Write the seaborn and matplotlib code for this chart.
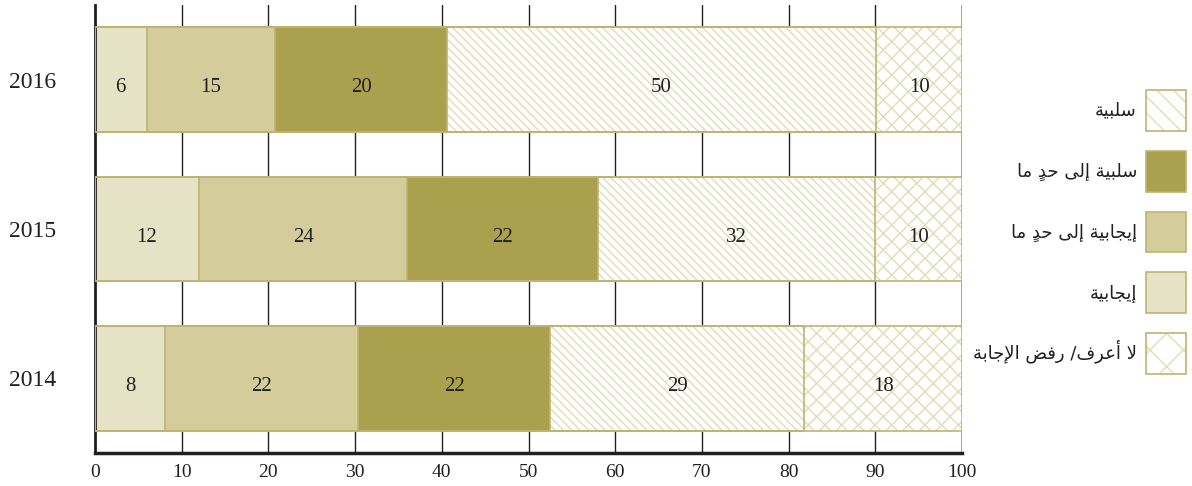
import matplotlib
matplotlib.use("Agg")
import matplotlib.pyplot as plt
from matplotlib.patches import Patch, Rectangle
import numpy as np
import pandas as pd
import seaborn as sns

# ---- data -------------------------------------------------------------
years = ["2016", "2015", "2014"]
categories = [
    "إيجابية",
    "إيجابية إلى حدٍ ما",
    "سلبية إلى حدٍ ما",
    "سلبية",
    "لا أعرف/ رفض الإجابة",
]
positive = [6, 12, 8]
somewhat_positive = [15, 24, 22]
somewhat_negative = [20, 22, 22]
negative = [50, 32, 29]
dont_know = [10, 10, 18]
x_ticks = [0, 10, 20, 30, 40, 50, 60, 70, 80, 90, 100]

# ---- styling ----------------------------------------------------------
fills = ["#e6e2c6", "#d4cc9a", "#aba04e", "#ffffff", "#ffffff"]
hatches = [None, None, None, "\\\\\\\\", "xx"]
legend_hatches = [None, None, None, "\\\\", "x"]
hatch_color = "#e2dcb6"
edge_color = "#bdb372"
text_color = "#231f20"

# ---- minimal Arabic shaping (contextual forms + RTL order) -------------
_FORMS = {
    "ا": ("\uFE8D", "\uFE8E"),
    "أ": ("\uFE83", "\uFE84"),
    "إ": ("\uFE87", "\uFE88"),
    "ة": ("\uFE93", "\uFE94"),
    "د": ("\uFEA9", "\uFEAA"),
    "ر": ("\uFEAD", "\uFEAE"),
    "ى": ("\uFEEF", "\uFEF0"),
    "ب": ("\uFE8F", "\uFE90", "\uFE91", "\uFE92"),
    "ج": ("\uFE9D", "\uFE9E", "\uFE9F", "\uFEA0"),
    "ح": ("\uFEA1", "\uFEA2", "\uFEA3", "\uFEA4"),
    "س": ("\uFEB1", "\uFEB2", "\uFEB3", "\uFEB4"),
    "ض": ("\uFEBD", "\uFEBE", "\uFEBF", "\uFEC0"),
    "ع": ("\uFEC9", "\uFECA", "\uFECB", "\uFECC"),
    "ف": ("\uFED1", "\uFED2", "\uFED3", "\uFED4"),
    "ل": ("\uFEDD", "\uFEDE", "\uFEDF", "\uFEE0"),
    "م": ("\uFEE1", "\uFEE2", "\uFEE3", "\uFEE4"),
    "ي": ("\uFEF1", "\uFEF2", "\uFEF3", "\uFEF4"),
}
_LAM_ALEF = {"ا": ("\uFEFB", "\uFEFC"), "أ": ("\uFEF7", "\uFEF8"), "إ": ("\uFEF9", "\uFEFA")}
_MARKS = set("\u064B\u064C\u064D\u064E\u064F\u0650\u0651\u0652")


def shape_arabic(text):
    clusters = []
    for ch in text:
        if ch in _MARKS and clusters:
            clusters[-1][1] += ch
        else:
            clusters.append([ch, ""])
    merged = []
    i = 0
    while i < len(clusters):
        base, marks = clusters[i]
        if base == "ل" and i + 1 < len(clusters) and clusters[i + 1][0] in _LAM_ALEF:
            merged.append(["LA" + clusters[i + 1][0], marks + clusters[i + 1][1]])
            i += 2
        else:
            merged.append([base, marks])
            i += 1

    def joins_next(b):
        return b in _FORMS and len(_FORMS[b]) == 4

    def joins_prev(b):
        return b in _FORMS or b.startswith("LA")

    out = []
    for i, (base, marks) in enumerate(merged):
        prev_b = merged[i - 1][0] if i > 0 else None
        next_b = merged[i + 1][0] if i + 1 < len(merged) else None
        p = prev_b is not None and joins_next(prev_b)
        if base.startswith("LA"):
            glyph = _LAM_ALEF[base[2]][1 if p else 0]
        elif base in _FORMS:
            f = _FORMS[base]
            n = len(f) == 4 and next_b is not None and joins_prev(next_b)
            glyph = f[3] if (p and n) else f[1] if p else f[2] if n else f[0]
        else:
            glyph = base
        # zero-width marks go first so they sit over their base glyph
        out.append(marks + glyph)
    return "".join(reversed(out))


# ---- table ------------------------------------------------------------
series = [positive, somewhat_positive, somewhat_negative, negative, dont_know]
rows = []
for ci, vals in enumerate(series):
    for yi, v in enumerate(vals):
        rows.append({"year": years[yi], "category": categories[ci], "cat_idx": ci, "value": v})
df = pd.DataFrame(rows)
df["share"] = df["value"] / df.groupby("year")["value"].transform("sum") * 100
df = df.sort_values(["year", "cat_idx"])
df["cum"] = df.groupby("year")["share"].cumsum()
df["mid"] = df["cum"] - df["share"] / 2

# ---- figure -------------------------------------------------------------
sns.set_style("white")
plt.rcParams["font.family"] = ["Liberation Serif", "DejaVu Sans"]
plt.rcParams["hatch.linewidth"] = 1.0

fig = plt.figure(figsize=(11.92, 4.86), dpi=100)
ax = fig.add_axes([95 / 1192, 1 - 453 / 486, (962 - 95) / 1192, (453 - 5) / 486])

# stacked bars: draw cumulative totals from the last category to the first
for ci in reversed(range(len(categories))):
    sub = df[df["cat_idx"] == ci].set_index("year").loc[years].reset_index()
    sns.barplot(data=sub, x="cum", y="year", order=years, orient="h",
                color=fills[ci], width=0.7, linewidth=0, saturation=1,
                ax=ax, zorder=2)
    bars = ax.containers[-1]
    for bar in bars:
        bar.set_facecolor(fills[ci])
        if hatches[ci]:
            bar.set_hatch(hatches[ci])
            bar.set_edgecolor(hatch_color)
            bar.set_linewidth(0)
        # thin outline on top of each segment
        ax.add_patch(Rectangle(bar.get_xy(), bar.get_width(), bar.get_height(),
                               fill=False, edgecolor=edge_color, linewidth=1.2, zorder=3))

# value labels, sitting a little below the bar middle
for _, r in df.iterrows():
    ax.text(r["mid"], years.index(r["year"]) + 0.055, f"{r['value']:g}",
            ha="center", va="center", fontsize=15, color=text_color, zorder=4)

ax.set_xlim(0, 100)
ax.set_ylim(2.5, -0.5)
ax.set_xticks(x_ticks)
ax.set_xticklabels([str(t) for t in x_ticks])
ax.set_xlabel("")
ax.set_ylabel("")

for t in x_ticks[1:-1]:
    ax.axvline(t, color=text_color, linewidth=1.0, zorder=0)
ax.axvline(100, color="#888888", linewidth=1.8, zorder=0)

for side in ["top", "right"]:
    ax.spines[side].set_visible(False)
ax.spines["left"].set_color(text_color)
ax.spines["left"].set_linewidth(2.0)
ax.spines["bottom"].set_color(text_color)
ax.spines["bottom"].set_linewidth(2.5)
ax.tick_params(axis="x", length=0, pad=8, labelsize=14, colors=text_color)
ax.tick_params(axis="y", length=0, pad=28, labelsize=17, colors=text_color)

# legend, top to bottom as listed, text to the left of each swatch
legend_order = [3, 2, 1, 0, 4]
handles, labels = [], []
for ci in legend_order:
    if hatches[ci]:
        h = (Patch(facecolor="white", edgecolor=hatch_color, linewidth=0, hatch=legend_hatches[ci]),
             Patch(fill=False, edgecolor=edge_color, linewidth=1.2))
    else:
        h = Patch(facecolor=fills[ci], edgecolor=edge_color, linewidth=1.2)
    handles.append(h)
    labels.append(shape_arabic(categories[ci]))

legend_size = 13
fig.legend(handles, labels, loc="center right",
           bbox_to_anchor=(1186 / 1192, 1 - 232 / 486), bbox_transform=fig.transFigure,
           frameon=False, markerfirst=False, borderpad=0, borderaxespad=0,
           handlelength=2.22, handleheight=3.1, handletextpad=0.5, labelspacing=1.1,
           prop={"family": ["DejaVu Sans"], "size": legend_size}, labelcolor=text_color)

fig.savefig("out.png", dpi=100)
